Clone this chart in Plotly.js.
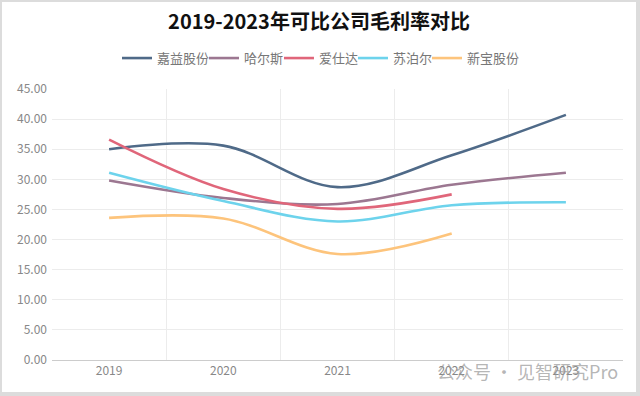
<!DOCTYPE html>
<html>
<head>
<meta charset="utf-8">
<script src="https://cdn.plot.ly/plotly-3.0.1.min.js"></script>
<style>
html,body{margin:0;padding:0;background:#dcdcdc;width:640px;height:396px;overflow:hidden;}
#chart{position:absolute;left:2px;top:2px;width:634px;height:390px;background:#fff;}
</style>
</head>
<body>
<div id="chart"></div>
<script>
const years = ['2019', '2020', '2021', '2022', '2023'];
const jiayi = [35.0, 35.6, 28.7, 34.0, 40.7];
const haers = [29.8, 26.9, 25.9, 29.1, 31.1];
const aishida = [36.6, 28.4, 25.1, 27.5, null];
const supor = [31.1, 26.4, 23.0, 25.7, 26.2];
const xinbao = [23.6, 23.5, 17.6, 21.0, null];
const yTicks = [0, 5, 10, 15, 20, 25, 30, 35, 40, 45];

const series = [
  {name: '嘉益股份', y: jiayi, color: '#4f6a88'},
  {name: '哈尔斯', y: haers, color: '#9c7791'},
  {name: '爱仕达', y: aishida, color: '#e0667a'},
  {name: '苏泊尔', y: supor, color: '#6dd3ec'},
  {name: '新宝股份', y: xinbao, color: '#fdc47c'}
];

// legend entry left positions (paper fraction), one legend per series
const legendX = [0.1138, 0.2662, 0.3975, 0.5271, 0.6567];
const legendIds = ['legend', 'legend2', 'legend3', 'legend4', 'legend5'];

const traces = series.map((s, i) => ({
  type: 'scatter',
  mode: 'lines',
  name: s.name,
  x: years,
  y: s.y,
  legend: legendIds[i],
  line: {color: s.color, width: 2.6, shape: 'spline', smoothing: 1},
  connectgaps: false,
  hoverinfo: 'skip'
}));

const font = '"Noto Sans CJK SC", "Noto Sans", sans-serif';

const layout = {
  width: 634,
  height: 390,
  margin: {l: 50, r: 13, t: 87, b: 32},
  paper_bgcolor: '#ffffff',
  plot_bgcolor: '#ffffff',
  font: {family: font, color: '#888888', size: 12},
  title: {
    text: '<b>2019-2023年可比公司毛利率对比</b>',
    x: 0.5, xanchor: 'center', xref: 'container',
    y: 1 - 20 / 390, yref: 'container', yanchor: 'middle',
    pad: {t: 0, b: 0},
    font: {family: font, size: 20, color: '#111111'}
  },
  showlegend: true,
  xaxis: {
    type: 'category',
    range: [-0.5, 4.5],
    tickson: 'boundaries',
    showgrid: true, gridcolor: '#ececec', gridwidth: 1,
    ticks: '', showline: true, linecolor: '#cccccc', linewidth: 1,
    tickfont: {family: font, size: 12, color: '#888888'},
    fixedrange: true
  },
  yaxis: {
    range: [0, 45],
    tickvals: yTicks,
    tickformat: '.2f',
    showgrid: true, gridcolor: '#ececec', gridwidth: 1,
    zeroline: false, showline: false, ticks: '',
    tickfont: {family: font, size: 12, color: '#888888'},
    ticklabelstandoff: 4,
    fixedrange: true
  },
  annotations: [{
    text: '公众号 · 见智研究Pro',
    xref: 'paper', yref: 'paper', x: 0.995, y: -0.04, xanchor: 'right', yanchor: 'middle',
    showarrow: false,
    font: {family: font, size: 18, color: 'rgba(150,150,150,0.7)'}
  }]
};

legendIds.forEach((id, i) => {
  layout[id] = {
    orientation: 'h', x: legendX[i], xanchor: 'left', y: 1.114, yanchor: 'middle',
    font: {family: font, size: 13, color: '#777777'},
    itemwidth: 30, bgcolor: 'rgba(0,0,0,0)'
  };
});

Plotly.newPlot('chart', traces, layout, {displayModeBar: false, staticPlot: true});
</script>
</body>
</html>
